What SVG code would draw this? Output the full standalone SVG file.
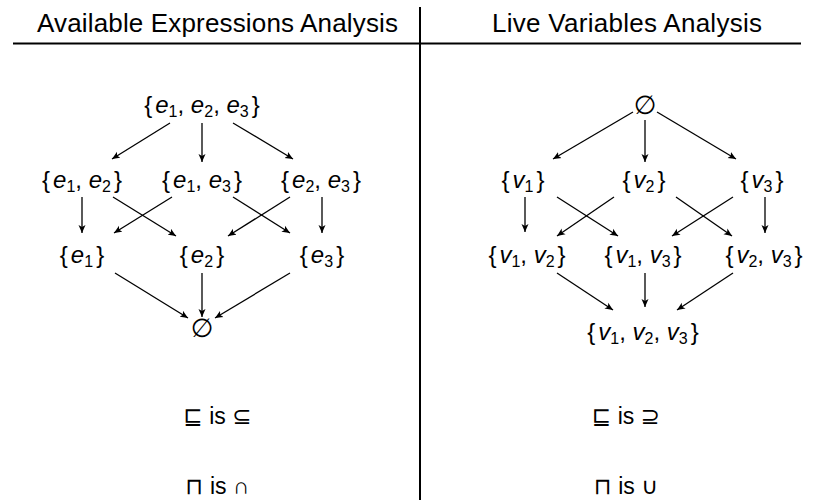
<svg xmlns="http://www.w3.org/2000/svg" width="814" height="500" viewBox="0 0 814 500">
<style>
.h{font-family:"Liberation Sans","DejaVu Sans",sans-serif;font-size:26px;fill:#000;text-anchor:middle}
.l{font-family:"Liberation Sans","DejaVu Sans",sans-serif;font-size:23px;fill:#000;text-anchor:middle}
.m{font-family:"Liberation Sans","DejaVu Sans",sans-serif;font-size:24px;fill:#000;text-anchor:middle}
.z{font-family:"DejaVu Sans",sans-serif;font-size:26px;fill:#000;text-anchor:middle}
.i{font-style:italic}
.s{font-size:16px}
.e{stroke:#000;stroke-width:1.3;fill:none;marker-end:url(#a)}
</style>
<defs>
<marker id="a" markerWidth="10" markerHeight="8" refX="8" refY="4" orient="auto" markerUnits="userSpaceOnUse">
<path d="M0,0.5 L8,4 L0,7.5 L2,4 Z" fill="#000"/>
</marker>
</defs>
<rect width="814" height="500" fill="#fff"/>
<g id="frame">
<line x1="13" y1="43.5" x2="801" y2="43.5" stroke="#000" stroke-width="2.2"/>
<line x1="420" y1="7" x2="420" y2="500" stroke="#000" stroke-width="2"/>
</g>
<g id="headers">
<text class="h" x="217.5" y="32" textLength="361">Available Expressions Analysis</text>
<text class="h" x="627" y="32" textLength="270">Live Variables Analysis</text>
</g>
<g id="ae-top"><text class="m" x="202" y="113">{<tspan dx="3" class="i">e</tspan><tspan class="s" dy="4">1</tspan><tspan dy="-4">, </tspan><tspan class="i">e</tspan><tspan class="s" dy="4">2</tspan><tspan dy="-4">, </tspan><tspan class="i">e</tspan><tspan class="s" dy="4">3</tspan><tspan dy="-4" dx="3">}</tspan></text></g>
<g id="ae-e12"><text class="m" x="82" y="188">{<tspan dx="3" class="i">e</tspan><tspan class="s" dy="4">1</tspan><tspan dy="-4">, </tspan><tspan class="i">e</tspan><tspan class="s" dy="4">2</tspan><tspan dy="-4" dx="3">}</tspan></text></g>
<g id="ae-e13"><text class="m" x="202" y="188">{<tspan dx="3" class="i">e</tspan><tspan class="s" dy="4">1</tspan><tspan dy="-4">, </tspan><tspan class="i">e</tspan><tspan class="s" dy="4">3</tspan><tspan dy="-4" dx="3">}</tspan></text></g>
<g id="ae-e23"><text class="m" x="321" y="188">{<tspan dx="3" class="i">e</tspan><tspan class="s" dy="4">2</tspan><tspan dy="-4">, </tspan><tspan class="i">e</tspan><tspan class="s" dy="4">3</tspan><tspan dy="-4" dx="3">}</tspan></text></g>
<g id="ae-e1"><text class="m" x="82" y="263">{<tspan dx="3" class="i">e</tspan><tspan class="s" dy="4">1</tspan><tspan dy="-4" dx="3">}</tspan></text></g>
<g id="ae-e2"><text class="m" x="202" y="263">{<tspan dx="3" class="i">e</tspan><tspan class="s" dy="4">2</tspan><tspan dy="-4" dx="3">}</tspan></text></g>
<g id="ae-e3"><text class="m" x="322" y="263">{<tspan dx="3" class="i">e</tspan><tspan class="s" dy="4">3</tspan><tspan dy="-4" dx="3">}</tspan></text></g>
<g id="ae-empty"><text class="z" x="202" y="337">∅</text></g>
<g id="lv-empty"><text class="z" x="645" y="114">∅</text></g>
<g id="lv-v1"><text class="m" x="523" y="188">{<tspan dx="3" class="i">v</tspan><tspan class="s" dy="4">1</tspan><tspan dy="-4" dx="3">}</tspan></text></g>
<g id="lv-v2"><text class="m" x="644" y="188">{<tspan dx="3" class="i">v</tspan><tspan class="s" dy="4">2</tspan><tspan dy="-4" dx="3">}</tspan></text></g>
<g id="lv-v3"><text class="m" x="762" y="188">{<tspan dx="3" class="i">v</tspan><tspan class="s" dy="4">3</tspan><tspan dy="-4" dx="3">}</tspan></text></g>
<g id="lv-v12"><text class="m" x="527" y="263">{<tspan dx="3" class="i">v</tspan><tspan class="s" dy="4">1</tspan><tspan dy="-4">, </tspan><tspan class="i">v</tspan><tspan class="s" dy="4">2</tspan><tspan dy="-4" dx="3">}</tspan></text></g>
<g id="lv-v13"><text class="m" x="643" y="263">{<tspan dx="3" class="i">v</tspan><tspan class="s" dy="4">1</tspan><tspan dy="-4">, </tspan><tspan class="i">v</tspan><tspan class="s" dy="4">3</tspan><tspan dy="-4" dx="3">}</tspan></text></g>
<g id="lv-v23"><text class="m" x="764" y="263">{<tspan dx="3" class="i">v</tspan><tspan class="s" dy="4">2</tspan><tspan dy="-4">, </tspan><tspan class="i">v</tspan><tspan class="s" dy="4">3</tspan><tspan dy="-4" dx="3">}</tspan></text></g>
<g id="lv-v123"><text class="m" x="643" y="340">{<tspan dx="3" class="i">v</tspan><tspan class="s" dy="4">1</tspan><tspan dy="-4">, </tspan><tspan class="i">v</tspan><tspan class="s" dy="4">2</tspan><tspan dy="-4">, </tspan><tspan class="i">v</tspan><tspan class="s" dy="4">3</tspan><tspan dy="-4" dx="3">}</tspan></text></g>
<g id="connectors">
<line class="e" x1="170" y1="123" x2="112" y2="159"/>
<line class="e" x1="202" y1="123" x2="202" y2="162"/>
<line class="e" x1="233" y1="123" x2="293" y2="159"/>
<line class="e" x1="82" y1="197" x2="82" y2="233"/>
<line class="e" x1="113" y1="197" x2="176" y2="236"/>
<line class="e" x1="172" y1="197" x2="114" y2="233"/>
<line class="e" x1="233" y1="197" x2="290" y2="233"/>
<line class="e" x1="290" y1="197" x2="228" y2="236"/>
<line class="e" x1="322" y1="197" x2="322" y2="233"/>
<line class="e" x1="115" y1="273" x2="188" y2="318"/>
<line class="e" x1="202" y1="273" x2="202" y2="317"/>
<line class="e" x1="290" y1="273" x2="215" y2="318"/>
<line class="e" x1="633" y1="112" x2="553" y2="159"/>
<line class="e" x1="645" y1="120" x2="645" y2="162"/>
<line class="e" x1="657" y1="112" x2="736" y2="159"/>
<line class="e" x1="525" y1="197" x2="525" y2="232"/>
<line class="e" x1="557" y1="197" x2="618" y2="236"/>
<line class="e" x1="614" y1="197" x2="557" y2="236"/>
<line class="e" x1="676" y1="197" x2="732" y2="236"/>
<line class="e" x1="733" y1="197" x2="672" y2="236"/>
<line class="e" x1="765" y1="197" x2="765" y2="233"/>
<line class="e" x1="557" y1="273" x2="613" y2="310"/>
<line class="e" x1="645" y1="273" x2="645" y2="307"/>
<line class="e" x1="733" y1="273" x2="677" y2="310"/>
</g>
<g id="legend">
<text class="l" x="217.5" y="424">⊑ is ⊆</text>
<text class="l" x="217.5" y="494">⊓ is ∩</text>
<text class="l" x="626" y="424">⊑ is ⊇</text>
<text class="l" x="626" y="494">⊓ is ∪</text>
</g>
</svg>
